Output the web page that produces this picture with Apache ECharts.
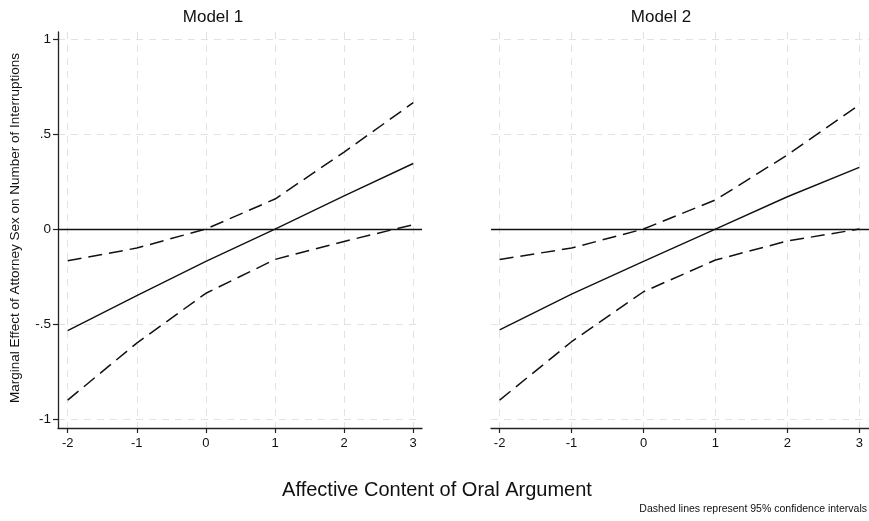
<!DOCTYPE html>
<html>
<head>
<meta charset="utf-8">
<script src="https://cdn.jsdelivr.net/npm/echarts@6/dist/echarts.min.js"></script>
<style>
  html, body { margin: 0; padding: 0; background: #fff; }
  #chart { width: 869px; height: 521px; }
</style>
</head>
<body>
<div id="chart"></div>
<script>
// x positions where the effect was evaluated
const xValues = [-2, -1, 0, 1, 2, 3]
const xTicks = [-2, -1, 0, 1, 2, 3]
const yTicks = [-1, -0.5, 0, 0.5, 1]
const yTickLabels = ['-1', '-.5', '0', '.5', '1']
const panelTitles = ['Model 1', 'Model 2']

// Model 1
const m1Effect = [-0.535, -0.35, -0.17, 0.0, 0.175, 0.345]
const m1Upper = [-0.167, -0.1, 0.0, 0.158, 0.405, 0.665]
const m1Lower = [-0.9, -0.6, -0.338, -0.16, -0.065, 0.023]
// Model 2
const m2Effect = [-0.53, -0.342, -0.17, 0.0, 0.17, 0.325]
const m2Upper = [-0.16, -0.1, 0.0, 0.153, 0.39, 0.653]
const m2Lower = [-0.9, -0.593, -0.33, -0.163, -0.063, 0.0]

const font = 'Liberation Sans, Arial, sans-serif'
const ink = '#111'
const gridColor = '#e2e2e2'

const pairs = (ys) => xValues.map((x, i) => [x, ys[i]])

function xAxisFor(idx, min, max) {
  return {
    type: 'value', gridIndex: idx, min: min, max: max,
    axisLine: { show: true, onZero: false, lineStyle: { color: '#222', width: 1.3 } },
    axisTick: { show: true, customValues: xTicks, length: 5, lineStyle: { color: '#222', width: 1.2 } },
    axisLabel: { customValues: xTicks, color: ink, fontSize: 13, fontFamily: font, margin: 9 },
    splitLine: { show: true, lineStyle: { color: gridColor, type: [7, 6], width: 1 } }
  }
}

function yAxisFor(idx, showAxis) {
  return {
    type: 'value', gridIndex: idx, min: -1.047, max: 1.037,
    axisLine: { show: showAxis, onZero: false, lineStyle: { color: '#222', width: 1.3 } },
    axisTick: { show: showAxis, customValues: yTicks, length: 5, lineStyle: { color: '#222', width: 1.2 } },
    axisLabel: {
      show: showAxis, customValues: yTicks, color: ink, fontSize: 13.5, fontFamily: font, margin: 7,
      formatter: (v) => yTickLabels[yTicks.indexOf(Math.round(v * 10) / 10)]
    },
    splitLine: {
      show: true,
      lineStyle: { color: gridColor, type: [7, 6], width: 1 }
    }
  }
}

function lineSeries(idx, ys, dashed, withZero) {
  const s = {
    type: 'line', xAxisIndex: idx, yAxisIndex: idx,
    data: pairs(ys), showSymbol: false, symbol: 'none', silent: true,
    lineStyle: { color: ink, width: dashed ? 1.5 : 1.4, type: dashed ? [14, 7] : 'solid' },
    z: 3
  }
  if (withZero) {
    s.markLine = {
      silent: true, symbol: 'none', label: { show: false },
      lineStyle: { color: ink, type: 'solid', width: 1.4 },
      data: [{ yAxis: 0 }]
    }
  }
  return s
}

var chart = echarts.init(document.getElementById('chart'))
chart.setOption({
  animation: false,
  backgroundColor: '#fff',
  grid: [
    { left: 58, top: 32, width: 364, height: 396 },
    { left: 491, top: 32, width: 378, height: 396 }
  ],
  xAxis: [xAxisFor(0, -2.14, 3.127), xAxisFor(1, -2.12, 3.135)],
  yAxis: [yAxisFor(0, true), yAxisFor(1, false)],
  series: [
    lineSeries(0, m1Effect, false, true),
    lineSeries(0, m1Upper, true, false),
    lineSeries(0, m1Lower, true, false),
    lineSeries(1, m2Effect, false, true),
    lineSeries(1, m2Upper, true, false),
    lineSeries(1, m2Lower, true, false)
  ],
  graphic: [
    { type: 'text', x: 213, y: 17, style: { text: panelTitles[0], font: '17px ' + font, fill: ink, textAlign: 'center', textVerticalAlign: 'middle' } },
    { type: 'text', x: 661, y: 17, style: { text: panelTitles[1], font: '17px ' + font, fill: ink, textAlign: 'center', textVerticalAlign: 'middle' } },
    { type: 'text', x: 15, y: 228, rotation: Math.PI / 2,
      style: { text: 'Marginal Effect of Attorney Sex on Number of Interruptions', font: '13.5px ' + font, fill: ink, textAlign: 'center', textVerticalAlign: 'middle' } },
    { type: 'text', x: 437, y: 490, style: { text: 'Affective Content of Oral Argument', font: '20px ' + font, fill: ink, textAlign: 'center', textVerticalAlign: 'middle' } },
    { type: 'text', x: 867, y: 509, style: { text: 'Dashed lines represent 95% confidence intervals', font: '10.5px ' + font, fill: ink, textAlign: 'right', textVerticalAlign: 'middle' } }
  ]
})
</script>
</body>
</html>
